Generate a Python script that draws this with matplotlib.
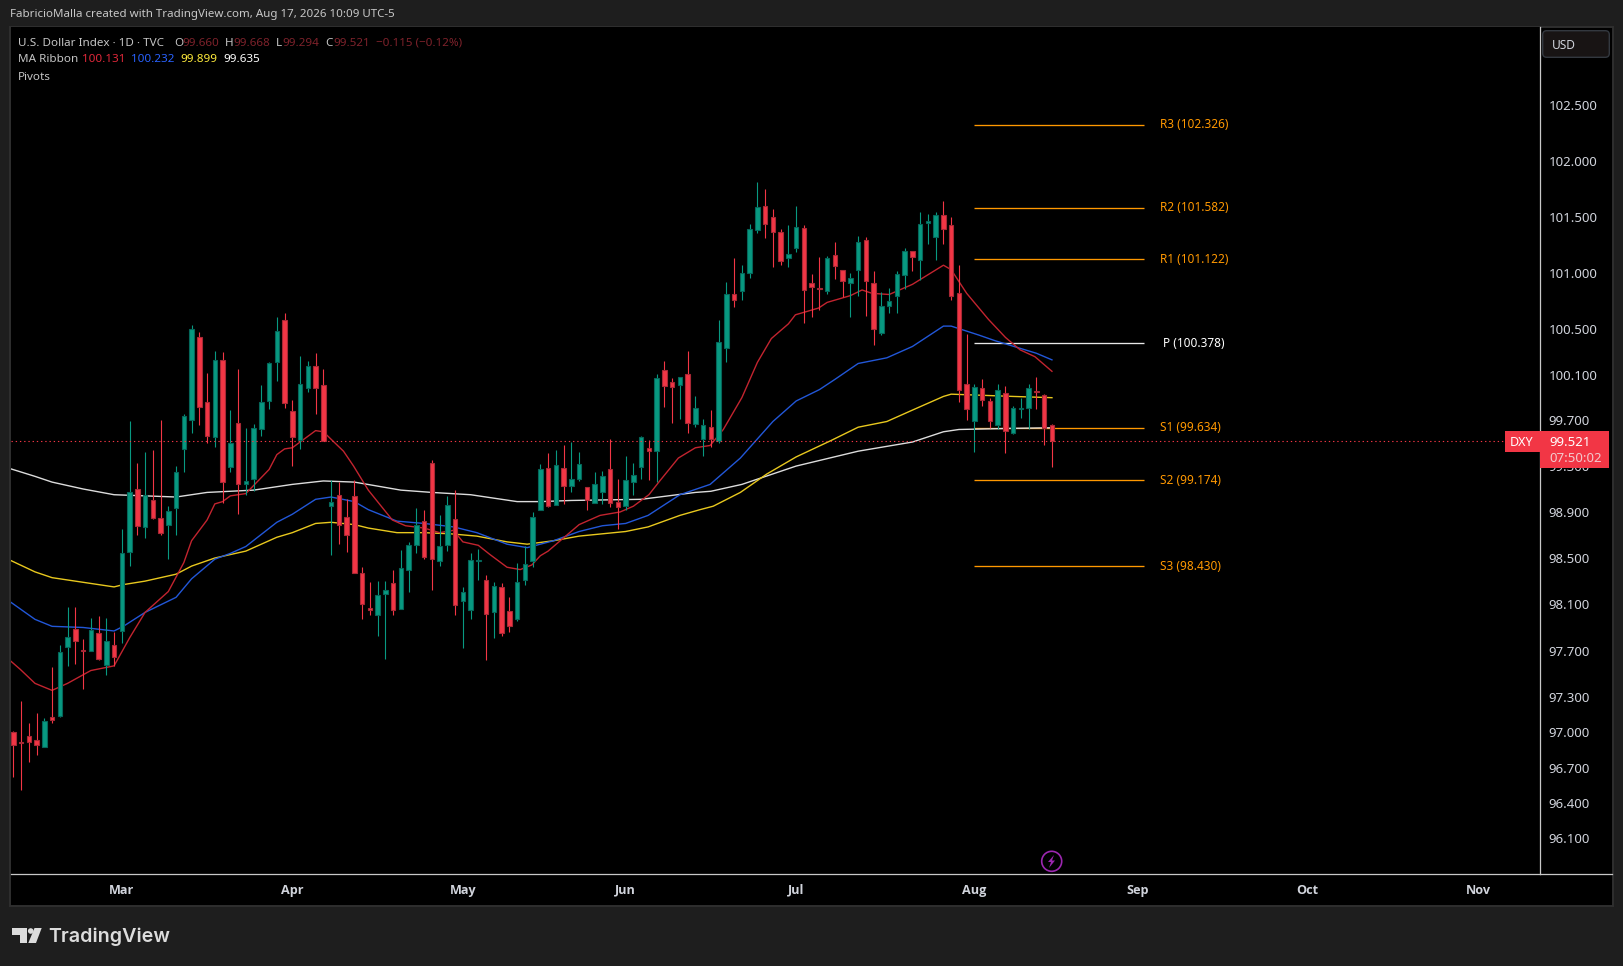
import numpy as np
import matplotlib
matplotlib.use("Agg")
import matplotlib.pyplot as plt
from matplotlib.patches import Circle, FancyBboxPatch, Polygon, Rectangle

W, H = 1623, 966

opens = [
    97.00, 96.92, 96.97, 96.94, 96.88, 97.13, 97.14, 97.73, 97.89, 97.71,
    97.70, 97.85, 97.58, 97.75, 97.87, 98.55, 99.10, 98.77, 99.00, 98.85,
    98.79, 98.93, 99.45, 99.70, 100.43, 99.86, 99.55, 100.23, 99.29, 99.68,
    99.14, 99.19, 99.62, 99.87, 100.21, 100.58, 99.78, 99.53, 99.98, 100.18,
    100.01, 98.95, 99.05, 98.86, 99.04, 98.37, 98.07, 98.01, 98.19, 98.28,
    98.06, 98.40, 98.61, 98.82, 99.33, 98.47, 98.61, 98.84, 98.13, 98.05,
    98.47, 98.31, 98.03, 98.25, 98.04, 97.97, 98.31, 98.47, 98.92, 99.28,
    98.96, 99.28, 99.13, 99.19, 99.12, 98.98, 99.07, 99.27, 98.99, 98.95,
    99.16, 99.29, 99.46, 99.43, 100.14, 100.04, 100.01, 100.11, 99.67, 99.54,
    99.64, 99.52, 100.34, 100.81, 100.84, 101.00, 101.38, 101.60, 101.50, 101.37,
    101.13, 101.22, 101.40, 100.91, 100.87, 100.84, 101.16, 101.03, 100.91, 101.03,
    101.29, 100.91, 100.47, 100.71, 100.80, 100.98, 101.20, 101.12, 101.45, 101.32,
    101.52, 101.43, 100.82, 100.02, 99.69, 99.98, 99.87, 99.66, 99.94, 99.59,
    99.80, 99.81, 99.96, 99.92, 99.660,
]
highs = [
    97.01, 97.27, 97.08, 97.17, 97.12, 97.56, 97.75, 98.08, 98.08, 97.80,
    97.98, 98.00, 97.98, 97.86, 98.75, 99.69, 99.33, 99.42, 99.44, 99.70,
    98.95, 99.30, 99.76, 100.54, 100.48, 100.12, 100.31, 100.30, 99.79, 100.15,
    99.63, 99.67, 100.01, 100.21, 100.61, 100.65, 99.88, 100.27, 100.22, 100.29,
    100.15, 99.18, 99.16, 99.01, 99.18, 98.42, 98.29, 98.30, 98.30, 98.40,
    98.57, 98.64, 98.93, 98.92, 99.35, 98.87, 99.04, 99.09, 98.25, 98.54,
    98.58, 98.35, 98.29, 98.28, 98.16, 98.46, 98.60, 98.90, 99.32, 99.41,
    99.44, 99.48, 99.51, 99.42, 99.12, 99.25, 99.26, 99.54, 99.19, 99.39,
    99.33, 99.56, 99.53, 100.11, 100.22, 100.07, 100.08, 100.31, 99.91, 99.715,
    99.79, 100.58, 100.92, 101.13, 101.07, 101.44, 101.81, 101.75, 101.57, 101.39,
    101.43, 101.60, 101.43, 100.99, 101.14, 101.15, 101.28, 101.03, 101.00, 101.33,
    101.32, 101.02, 100.83, 100.87, 101.02, 101.22, 101.20, 101.54, 101.53, 101.54,
    101.64, 101.50, 101.07, 100.46, 100.02, 100.06, 99.90, 100.02, 100.00, 99.83,
    99.90, 100.02, 100.08, 99.93, 99.668,
]
lows = [
    96.62, 96.51, 96.75, 96.81, 96.88, 97.08, 97.13, 97.57, 97.59, 97.37,
    97.70, 97.62, 97.49, 97.57, 97.77, 98.43, 98.70, 98.67, 98.84, 98.70,
    98.49, 98.70, 99.25, 99.59, 99.66, 99.50, 99.47, 98.98, 99.25, 98.88,
    99.05, 99.08, 99.56, 99.80, 100.05, 99.81, 99.30, 99.45, 99.95, 99.76,
    99.52, 98.53, 98.62, 98.55, 98.37, 97.97, 98.01, 97.83, 97.63, 98.01,
    98.06, 98.21, 98.54, 98.49, 98.22, 98.43, 98.56, 98.01, 97.72, 97.97,
    98.31, 97.62, 97.81, 97.83, 97.86, 97.96, 98.27, 98.42, 98.92, 98.94,
    98.96, 98.97, 99.07, 99.17, 98.92, 98.98, 98.97, 98.94, 98.75, 98.92,
    99.05, 99.19, 99.18, 99.16, 99.82, 99.68, 99.71, 99.59, 99.64, 99.39,
    99.47, 99.50, 100.21, 100.70, 100.76, 100.96, 101.36, 101.31, 101.05, 101.07,
    101.05, 101.19, 100.56, 100.61, 100.67, 100.81, 100.95, 100.79, 100.61, 100.80,
    100.62, 100.36, 100.45, 100.65, 100.65, 100.86, 101.02, 100.94, 101.26, 101.12,
    101.26, 100.76, 99.86, 99.70, 99.42, 99.83, 99.63, 99.62, 99.41, 99.58,
    99.72, 99.62, 99.80, 99.48, 99.294,
]
closes = [
    96.89, 96.91, 96.92, 96.89, 97.10, 97.11, 97.69, 97.82, 97.78, 97.70,
    97.88, 97.63, 97.78, 97.65, 98.54, 99.07, 98.78, 99.05, 98.85, 98.72,
    98.91, 99.25, 99.74, 100.50, 99.82, 99.56, 100.23, 99.16, 99.50, 99.14,
    99.17, 99.63, 99.86, 100.20, 100.49, 99.85, 99.55, 100.02, 100.18, 99.98,
    99.52, 98.99, 98.79, 98.70, 98.37, 98.10, 98.05, 98.18, 98.22, 98.05,
    98.41, 98.61, 98.79, 98.51, 98.49, 98.60, 98.96, 98.09, 98.21, 98.48,
    98.48, 98.02, 98.26, 97.85, 97.91, 98.29, 98.45, 98.86, 99.27, 98.95,
    99.31, 99.13, 99.19, 99.32, 99.00, 99.14, 99.21, 98.98, 98.94, 99.18,
    99.22, 99.55, 99.43, 100.07, 100.00, 99.99, 100.08, 99.68, 99.81, 99.66,
    99.54, 100.39, 100.81, 100.76, 101.00, 101.39, 101.59, 101.44, 101.37, 101.11,
    101.17, 101.41, 100.85, 100.88, 100.86, 101.13, 101.06, 100.93, 100.96, 101.28,
    100.93, 100.50, 100.71, 100.75, 100.99, 101.20, 101.14, 101.44, 101.46, 101.52,
    101.39, 100.80, 99.97, 99.80, 99.99, 99.88, 99.69, 99.97, 99.61, 99.81,
    99.81, 99.98, 99.95, 99.63, 99.521,
]

white_x = [-1, 2.8, 5, 9, 13, 21, 25, 31, 36, 40, 44, 50, 54, 59, 65, 68, 72, 81, 88, 90, 94, 101, 109, 116, 120, 122, 129, 134]
white_y = [99.29, 99.21, 99.16, 99.10, 99.05, 99.03, 99.07, 99.09, 99.14, 99.17, 99.16, 99.09, 99.07, 99.05, 98.99, 98.99,
           99.00, 99.01, 99.07, 99.08, 99.14, 99.30, 99.43, 99.51, 99.60, 99.62, 99.63, 99.635]
blue_x = [-1, 2.8, 5, 9, 13, 14.2, 17, 21, 23, 26, 28, 30, 34, 36, 39, 41, 44, 45.8, 49.5, 53, 56.8, 59.8, 63.7, 66.3, 69.7,
          73, 76, 79, 81.9, 86, 88.6, 89.9, 93.8, 98, 101, 104, 106, 109, 112.7, 116, 120, 121, 124.6, 126.7, 132, 134]
blue_y = [98.15, 97.97, 97.91, 97.90, 97.87, 97.91, 98.03, 98.16, 98.32, 98.49, 98.54, 98.60, 98.81, 98.88, 99.01, 99.03,
          98.99, 98.92, 98.82, 98.80, 98.77, 98.72, 98.62, 98.59, 98.65, 98.73, 98.78, 98.80, 98.87, 99.05, 99.11, 99.14,
          99.37, 99.69, 99.87, 99.97, 100.06, 100.20, 100.25, 100.35, 100.53, 100.53, 100.45, 100.40, 100.29, 100.232]
yellow_x = [-1, 2.8, 5, 9, 13, 14.2, 17, 21, 23, 26, 30, 34, 36, 39, 41, 44, 45.8, 49.5, 53, 56.4, 59.8, 63.7, 66.3, 69.7,
            73, 79, 81.9, 86, 88.6, 90.3, 93.8, 97.2, 101, 105.4, 109, 112.7, 116, 120, 121, 129, 134]
yellow_y = [98.50, 98.38, 98.33, 98.29, 98.25, 98.27, 98.30, 98.36, 98.43, 98.50, 98.56, 98.68, 98.72, 98.80, 98.81, 98.79,
            98.76, 98.72, 98.72, 98.71, 98.69, 98.64, 98.62, 98.65, 98.69, 98.73, 98.77, 98.87, 98.92, 98.95, 99.07, 99.23,
            99.38, 99.52, 99.64, 99.69, 99.79, 99.91, 99.93, 99.91, 99.899]
red_x = [-1, 0.9, 2.8, 5, 7, 10, 13, 15, 17, 20, 22, 23, 25, 26, 27, 28, 30, 33, 34, 35, 36, 39, 40, 42.6, 43.9, 45.8, 48.9,
         50.6, 53, 55, 56.8, 58, 60, 61.5, 63.7, 65.4, 66.9, 68, 69, 73, 75.7, 78.3, 80, 82, 83.4, 85.8, 88, 89.9, 91.6,
         94, 96, 97.8, 100, 100.9, 103.9, 105, 108, 109.5, 110.8, 113, 116, 120, 121, 123, 125.8, 128, 129.9, 131.8, 134]
red_y = [97.65, 97.54, 97.42, 97.36, 97.42, 97.53, 97.57, 97.81, 98.03, 98.21, 98.46, 98.65, 98.83, 98.97, 98.99, 99.04,
         99.06, 99.27, 99.40, 99.45, 99.46, 99.61, 99.60, 99.43, 99.30, 99.09, 98.83, 98.78, 98.76, 98.72, 98.74, 98.64,
         98.61, 98.53, 98.42, 98.40, 98.44, 98.52, 98.56, 98.79, 98.87, 98.90, 98.95, 99.05, 99.17, 99.37, 99.46, 99.48,
         99.62, 99.90, 100.21, 100.42, 100.55, 100.63, 100.69, 100.74, 100.80, 100.85, 100.82, 100.81, 100.90, 101.07,
         101.03, 100.82, 100.59, 100.43, 100.32, 100.26, 100.131]

pivot_names = ["R3", "R2", "R1", "P", "S1", "S2", "S3"]
pivot_levels = [102.326, 101.582, 101.122, 100.378, 99.634, 99.174, 98.430]

price_ticks = [102.5, 102.0, 101.5, 101.0, 100.5, 100.1, 99.7, 99.3, 98.9, 98.5, 98.1, 97.7, 97.3, 97.0, 96.7, 96.4, 96.1]
month_pos = [14, 36, 58, 79, 101, 124, 145, 167, 189]
month_names = ["Mar", "Apr", "May", "Jun", "Jul", "Aug", "Sep", "Oct", "Nov"]

last_price = 99.521

BG = "#1e1e1e"
BORDER = "#2f2f2f"
AXIS = "#c8c8c8"
TEXT = "#d1d4dc"
UP, DOWN = "#089981", "#f23645"
UP_EDGE, DOWN_EDGE = "#05665a", "#a82835"
DIM = "#7e222b"
ORANGE = "#ff9800"
FONT = "Noto Sans"

plt.rcParams["font.family"] = [FONT, "DejaVu Sans"]

fig = plt.figure(figsize=(W / 100, H / 100), dpi=100, facecolor=BG)

# frame behind everything, in pixel coordinates
bg = fig.add_axes([0, 0, 1, 1], zorder=-1)
bg.set_xlim(0, W)
bg.set_ylim(H, 0)
bg.axis("off")
bg.add_patch(Rectangle((9.5, 26.5), 1603, 879, fc="black", ec=BORDER, lw=1.4))

# main chart
left, right, top, bottom = 10.5, 1539.5, 27.0, 874.0
ax = fig.add_axes([left / W, 1 - bottom / H, (right - left) / W, (bottom - top) / H], zorder=1)
ax.set_facecolor("black")
ax.set_yscale("log")
ax.set_xlim(-0.36, 196.9)
ax.set_ylim(95.80, 103.21)

x = np.arange(len(opens))
o, h, l, c = map(np.array, (opens, highs, lows, closes))
rising = c >= o

for name, level in zip(pivot_names, pivot_levels):
    col = "#e8e8e8" if name == "P" else ORANGE
    ax.plot([124, 145.9], [level, level], color=col, lw=0.95, zorder=1, solid_capstyle="butt")
    shift = 18 if name == "P" else 15
    ax.annotate(f"{name} ({level:.3f})", (146, level), xytext=(shift * 0.72, 0), textcoords="offset points",
                color="white" if name == "P" else ORANGE, fontsize=8.5, va="center", ha="left",
                fontweight="medium" if name == "P" else "normal")

ax.plot(white_x, white_y, color="#dcdcdc", lw=1.0, zorder=2)
ax.plot(yellow_x, yellow_y, color="#e8c81e", lw=1.0, zorder=2)
ax.plot(blue_x, blue_y, color="#2257d8", lw=1.0, zorder=2)
ax.plot(red_x, red_y, color="#c2242f", lw=1.0, zorder=2)

ax.vlines(x[rising], l[rising], h[rising], color=UP, lw=0.8, zorder=3)
ax.vlines(x[~rising], l[~rising], h[~rising], color=DOWN, lw=0.8, zorder=3)
ax.bar(x[rising], (c - o)[rising], bottom=o[rising], width=0.58, color=UP, edgecolor=UP_EDGE, linewidth=0.8, zorder=4)
ax.bar(x[~rising], (o - c)[~rising], bottom=c[~rising], width=0.58, color=DOWN, edgecolor=DOWN_EDGE, linewidth=0.8, zorder=4)

ax.axhline(last_price, color=DOWN, lw=0.8, ls=(0, (1.2, 2.6)), zorder=5)

ax.yaxis.tick_right()
ax.set_yticks(price_ticks)
ax.set_yticklabels([f"{t:.3f}" for t in price_ticks], color=TEXT, fontsize=9.5)
ax.minorticks_off()
ax.tick_params(axis="y", length=0, pad=6.6)
ax.set_xticks(month_pos)
ax.set_xticklabels(month_names, color=TEXT, fontsize=9.1, fontweight="bold", family="Open Sans")
ax.tick_params(axis="x", length=0, pad=7)
for side, spine in ax.spines.items():
    spine.set_visible(side in ("right", "bottom"))
    spine.set_color(AXIS)
    spine.set_linewidth(0.9)

# overlay: header text, tags, logo
ov = fig.add_axes([0, 0, 1, 1], zorder=2)
ov.set_xlim(0, W)
ov.set_ylim(H, 0)
ov.axis("off")
ov.patch.set_alpha(0)


def label(px, py, s, color=TEXT, size=8.4, **kw):
    ov.text(px, py, s, color=color, fontsize=size, va="center", ha=kw.pop("ha", "left"), **kw)


# time axis line runs on under the price scale
ov.plot([1539.5, 1612], [874, 874], color=AXIS, lw=0.9)

label(10, 15, "FabricioMalla created with TradingView.com, Aug 17, 2026 10:09 UTC-5", color="#c8c8c8", size=8.3)

label(18, 43, "U.S. Dollar Index · 1D · TVC", color="#c4c4c4")
for px, s, col in [(174, "O", "#c4c4c4"), (182.7, "99.660", DIM), (225, "H", "#c4c4c4"), (233.3, "99.668", DIM),
                   (276, "L", "#c4c4c4"), (282.7, "99.294", DIM), (325, "C", "#c4c4c4"), (333.3, "99.521", DIM),
                   (376, "\u22120.115 (\u22120.12%)", DIM)]:
    label(px, 43, s, color=col)
label(18, 60, "MA Ribbon", color="#c4c4c4")
for px, s, col in [(81.7, "100.131", "#e0283a"), (131, "100.232", "#2962ff"), (180, "99.899", "#ffeb3b"), (223.3, "99.635", "white")]:
    label(px, 60, s, color=col, fontweight="medium")
label(18, 77, "Pivots", color="#c4c4c4")

# USD button
ov.add_patch(FancyBboxPatch((1545, 33), 62, 22, boxstyle="round,pad=2.3,rounding_size=4", fc="#181414", ec="#33383f", lw=1))
label(1552, 45.5, "USD", size=8.6)

# last price tags
ov.add_patch(Rectangle((1505, 431), 34.5, 20.5, fc=DOWN, ec="none"))
ov.add_patch(Rectangle((1539.5, 431), 69.5, 36.5, fc=DOWN, ec="none"))
label(1510, 442.5, "DXY", color="white", size=9)
label(1549, 442.5, "99.521", color="white", size=9.5)
label(1549, 458.5, "07:50:02", color="#f3c9cd", size=9.5)

# lightning marker
ov.add_patch(Circle((1051.7, 861.3), 10, fc="black", ec="#9c27b0", lw=1.2))
ov.add_patch(Polygon([(1054, 855), (1048, 862), (1051, 862), (1049, 868), (1055, 860.5), (1052, 860.5)], fc="#9c27b0", ec="none"))

# TradingView logo
logo = "#dcdcdc"
ov.add_patch(Polygon([(12, 928), (27, 928), (27, 943), (20, 943), (20, 935), (12, 935)], fc=logo, ec="none"))
ov.add_patch(Circle((30.7, 931), 2.8, fc=logo, ec="none"))
ov.add_patch(Polygon([(28.3, 943), (36, 943), (41.7, 928), (34.5, 928)], fc=logo, ec="none"))
ov.text(48, 936.5, "TradingView", color=logo, fontsize=14.2, va="center", ha="left", family="Inter", fontweight="semibold")

fig.savefig("out.png", dpi=100, facecolor=BG)
